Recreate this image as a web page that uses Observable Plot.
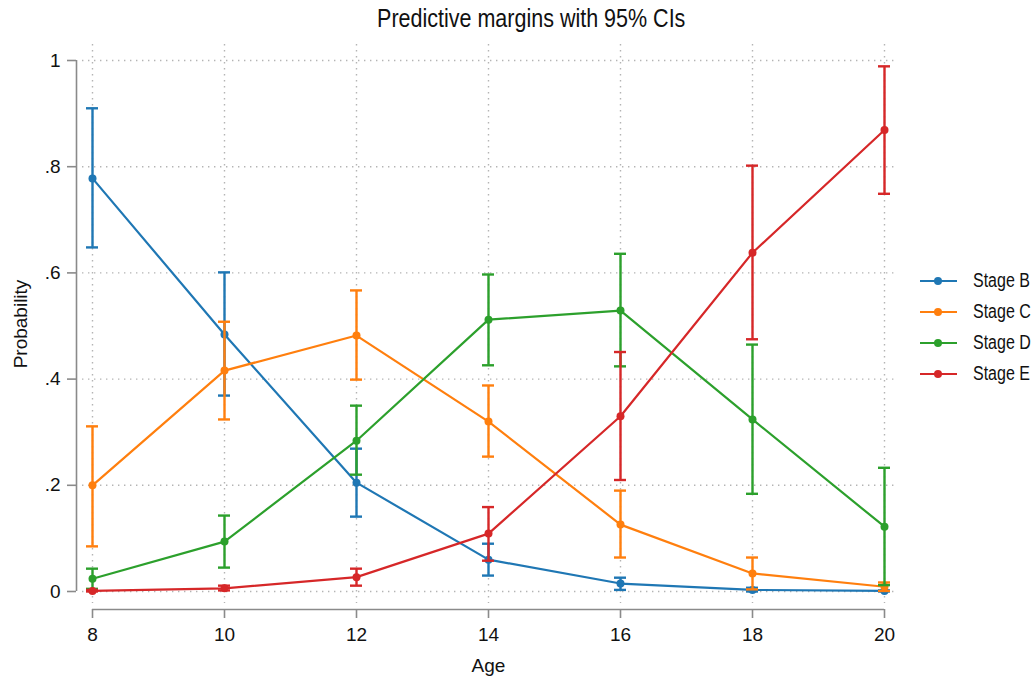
<!DOCTYPE html>
<html>
<head>
<meta charset="utf-8">
<script src="https://cdn.jsdelivr.net/npm/d3@7"></script>
<script src="https://cdn.jsdelivr.net/npm/@observablehq/plot@0.6"></script>
<style>
  html, body { margin: 0; padding: 0; background: #fff; }
  #wrap { position: relative; width: 1035px; height: 678px; overflow: hidden;
          font-family: "Liberation Sans Narrow", "Arial Narrow", "Liberation Sans", Arial, sans-serif; }
  #title { position: absolute; top: 4px; left: 0; width: 1063px; text-align: center;
           font-size: 25px; color: #111; }
  #title span { display: inline-block; transform: scaleX(0.86); transform-origin: center; }
  #legend { position: absolute; left: 920px; top: 265px; }
  .row { display: flex; align-items: center; height: 31px; font-size: 20px; color: #111; white-space: nowrap; }
  .row svg { margin-right: 16px; }
  .row span { display: inline-block; transform: scaleX(0.8); transform-origin: left center; }
</style>
</head>
<body>
<div id="wrap">
  <div id="chart"></div>
  <div id="title"><span>Predictive margins with 95% CIs</span></div>
  <div id="legend"></div>
</div>
<script>
const ages = [8, 10, 12, 14, 16, 18, 20];
const stages = ["Stage B", "Stage C", "Stage D", "Stage E"];
const colors = ["#1f77b4", "#ff7f0e", "#2ca02c", "#d62728"];

const stageB    = [0.778, 0.484, 0.205, 0.060, 0.015, 0.003, 0.001];
const stageB_lo = [0.648, 0.369, 0.141, 0.030, 0.003, 0.000, 0.000];
const stageB_hi = [0.910, 0.601, 0.269, 0.090, 0.026, 0.007, 0.002];

const stageC    = [0.200, 0.416, 0.482, 0.320, 0.126, 0.034, 0.009];
const stageC_lo = [0.085, 0.324, 0.399, 0.254, 0.064, 0.004, 0.001];
const stageC_hi = [0.311, 0.508, 0.567, 0.388, 0.190, 0.064, 0.017];

const stageD    = [0.024, 0.094, 0.284, 0.512, 0.529, 0.324, 0.122];
const stageD_lo = [0.005, 0.045, 0.220, 0.426, 0.424, 0.184, 0.012];
const stageD_hi = [0.043, 0.143, 0.350, 0.597, 0.636, 0.465, 0.233];

const stageE    = [0.001, 0.006, 0.027, 0.109, 0.330, 0.638, 0.869];
const stageE_lo = [0.000, 0.002, 0.011, 0.058, 0.210, 0.475, 0.749];
const stageE_hi = [0.003, 0.011, 0.043, 0.159, 0.451, 0.802, 0.989];

const xTicks = [8, 10, 12, 14, 16, 18, 20];
const yTicks = [0, 0.2, 0.4, 0.6, 0.8, 1];
const yTickLabels = ["0", ".2", ".4", ".6", ".8", "1"];

const series = [
  [stageB, stageB_lo, stageB_hi],
  [stageC, stageC_lo, stageC_hi],
  [stageD, stageD_lo, stageD_hi],
  [stageE, stageE_lo, stageE_hi]
];
const data = [];
series.forEach(([p, lo, hi], s) => {
  ages.forEach((a, i) => data.push({stage: stages[s], age: a, p: p[i], lo: lo[i], hi: hi[i]}));
});

const font = "Liberation Sans Narrow, Arial Narrow, Liberation Sans, Arial, sans-serif";
const gridStyle = {stroke: "#b4b4b4", strokeWidth: 1.4, strokeDasharray: "1.4,4.6", strokeOpacity: 1};
const axisColor = "#8a8a8a";

const seriesMarks = stages.flatMap((st, s) => {
  const d = data.filter(r => r.stage === st);
  const c = colors[s];
  return [
    Plot.ruleX(d, {x: "age", y1: "lo", y2: "hi", stroke: c, strokeWidth: 2.4}),
    Plot.ruleY(d, {y: "hi", x1: "age", x2: "age", insetLeft: -6, insetRight: -6, stroke: c, strokeWidth: 2.4}),
    Plot.ruleY(d, {y: "lo", x1: "age", x2: "age", insetLeft: -6, insetRight: -6, stroke: c, strokeWidth: 2.4}),
    Plot.line(d, {x: "age", y: "p", stroke: c, strokeWidth: 2.2}),
    Plot.dot(d, {x: "age", y: "p", fill: c, r: 4, stroke: "none"})
  ];
});

const chart = Plot.plot({
  width: 1035,
  height: 678,
  marginLeft: 82,
  marginRight: 137,
  marginTop: 44,
  marginBottom: 75,
  style: {fontFamily: font, background: "#fff"},
  x: {domain: [8, 20], insetLeft: 10, insetRight: 14},
  y: {domain: [0, 1], insetTop: 16, insetBottom: 12},
  marks: [
    Plot.ruleY(yTicks, gridStyle),
    Plot.ruleX(xTicks, gridStyle),
    // axis lines
    Plot.ruleX([{a: xTicks[0], lo: yTicks[0], hi: yTicks[yTicks.length - 1]}],
      {x: "a", y1: "lo", y2: "hi", dx: -16, stroke: axisColor, strokeWidth: 1.6}),
    Plot.ruleY([{b: yTicks[0], lo: xTicks[0], hi: xTicks[xTicks.length - 1]}],
      {y: "b", x1: "lo", x2: "hi", dy: 18, stroke: axisColor, strokeWidth: 1.6}),
    Plot.axisY(yTicks, {
      tickFormat: (d, i) => yTickLabels[i], tickSize: 9, tickPadding: 7, dx: -6,
      stroke: axisColor, strokeWidth: 1.6, fontSize: 19, fill: "#111", label: null
    }),
    Plot.axisX(xTicks, {
      tickSize: 9, tickPadding: 9, dy: 6, stroke: axisColor, strokeWidth: 1.6,
      fontSize: 19, fill: "#111", label: null
    }),
    Plot.text(["Probability"], {frameAnchor: "left", rotate: -90, dx: -62, fontSize: 19, fill: "#111", textAnchor: "middle", lineAnchor: "middle"}),
    Plot.text(["Age"], {frameAnchor: "bottom", dy: 62, dx: -2, fontSize: 19, fill: "#111", lineAnchor: "middle"}),
    ...seriesMarks
  ]
});
document.getElementById("chart").appendChild(chart);

const legend = document.getElementById("legend");
stages.forEach((st, s) => {
  const row = document.createElement("div");
  row.className = "row";
  row.innerHTML = `<svg width="37" height="10"><line x1="0" x2="37" y1="5" y2="5" stroke="${colors[s]}" stroke-width="2.2"/><circle cx="18" cy="5" r="4" fill="${colors[s]}"/></svg><span>${st}</span>`;
  legend.appendChild(row);
});
</script>
</body>
</html>
